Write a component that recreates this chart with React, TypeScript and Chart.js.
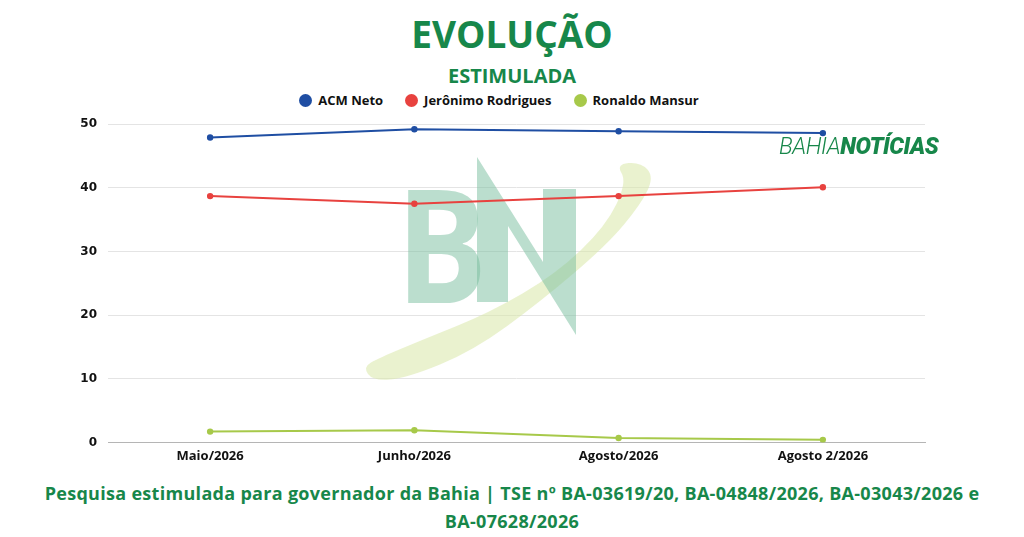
import { useEffect, useRef } from "react";
import { Chart, registerables } from "chart.js";

Chart.register(...registerables);

const months = ["Maio/2026", "Junho/2026", "Agosto/2026", "Agosto 2/2026"];
const seriesNames = ["ACM Neto", "Jerônimo Rodrigues", "Ronaldo Mansur"];
const acmNeto = [47.9, 49.2, 48.9, 48.6];
const jeronimo = [38.7, 37.5, 38.7, 40.1];
const ronaldo = [1.7, 1.9, 0.7, 0.4];
const seriesColors = ["#1f4ea3", "#e8423f", "#a7c94a"];
const yTicks = [0, 10, 20, 30, 40, 50];

const GREEN = "#17874a";
const CANVAS_TOP = 106;

// outline of the logo swoosh, page coords
const swoosh: [number, number][] = [
  [363, 367], [373, 381], [407, 378], [473, 351], [540, 302], [607, 245],
  [641, 204], [654, 177], [641, 162], [616, 164], [627, 182], [606, 226],
  [556, 274], [489, 313], [422, 340], [379, 358],
];

function smoothPath(ctx: CanvasRenderingContext2D, pts: [number, number][], oy: number) {
  const n = pts.length;
  const mid = (a: [number, number], b: [number, number]) => [(a[0] + b[0]) / 2, (a[1] + b[1]) / 2];
  const start = mid(pts[n - 1], pts[0]);
  ctx.moveTo(start[0], start[1] + oy);
  for (let i = 0; i < n; i++) {
    const p = pts[i];
    const m = mid(p, pts[(i + 1) % n]);
    ctx.quadraticCurveTo(p[0], p[1] + oy, m[0], m[1] + oy);
  }
  ctx.closePath();
}

// faint BN logo behind the lines
const watermark = {
  id: "bnWatermark",
  beforeDatasetsDraw(chart: Chart) {
    const ctx = chart.ctx;
    const oy = -CANVAS_TOP;
    ctx.save();
    ctx.fillStyle = "rgba(216,231,168,0.55)";
    ctx.beginPath();
    smoothPath(ctx, swoosh, oy);
    ctx.fill();
    // B
    ctx.fillStyle = "rgba(120,190,158,0.5)";
    ctx.save();
    ctx.translate(396, 303 + oy);
    ctx.scale(0.86, 1);
    ctx.font = "bold 158px 'Open Sans'";
    ctx.textBaseline = "alphabetic";
    ctx.fillText("B", 0, 0);
    ctx.restore();
    // N
    ctx.beginPath();
    ctx.moveTo(477, 302 + oy);
    ctx.lineTo(477, 157 + oy);
    ctx.lineTo(543, 262 + oy);
    ctx.lineTo(543, 189 + oy);
    ctx.lineTo(576, 189 + oy);
    ctx.lineTo(576, 335 + oy);
    ctx.lineTo(508, 226 + oy);
    ctx.lineTo(508, 302 + oy);
    ctx.closePath();
    ctx.fill();
    ctx.restore();
  },
};

export default function App() {
  const canvasRef = useRef<HTMLCanvasElement>(null);
  const chartRef = useRef<Chart | null>(null);

  useEffect(() => {
    const el = canvasRef.current;
    if (!el) return;
    chartRef.current?.destroy();

    const values = [acmNeto, jeronimo, ronaldo];

    chartRef.current = new Chart(el, {
      type: "line",
      data: {
        labels: months,
        datasets: seriesNames.map((name, i) => ({
          label: name,
          data: values[i],
          borderColor: seriesColors[i],
          backgroundColor: seriesColors[i],
          pointBackgroundColor: seriesColors[i],
          pointBorderColor: seriesColors[i],
          pointRadius: 2.2,
          borderWidth: 2,
          tension: 0,
        })),
      },
      options: {
        animation: false,
        responsive: false,
        maintainAspectRatio: false,
        layout: { padding: { left: 68, right: 99, top: 0, bottom: 4 } },
        plugins: {
          legend: { display: false },
          tooltip: { enabled: false },
        },
        scales: {
          x: {
            offset: true,
            grid: { display: false, drawTicks: false },
            border: { display: true, color: "#b5b5b5", width: 1 },
            ticks: {
              color: "#111",
              padding: 6,
              font: { family: "'Open Sans'", weight: "bold", size: 13 },
            },
          },
          y: {
            min: 0,
            max: 50,
            afterFit: (s) => {
              s.width = 40;
            },
            afterBuildTicks: (s) => {
              s.ticks = yTicks.map((v) => ({ value: v }));
            },
            grid: { color: "#e4e4e4", drawTicks: false },
            border: { display: false },
            ticks: {
              color: "#111",
              padding: 11,
              font: { family: "'DejaVu Sans'", weight: "bold", size: 12 },
            },
          },
        },
      },
      plugins: [watermark],
    });

    return () => {
      chartRef.current?.destroy();
      chartRef.current = null;
    };
  }, []);

  return (
    <div
      style={{
        position: "fixed",
        left: 0,
        top: 0,
        width: 1024,
        height: 537,
        background: "#fff",
        fontFamily: "'Open Sans', sans-serif",
        overflow: "hidden",
      }}
    >
      <div
        style={{
          position: "absolute",
          top: 14,
          left: 0,
          width: 1024,
          textAlign: "center",
          fontSize: 37,
          lineHeight: "40px",
          fontWeight: 700,
          color: GREEN,
        }}
      >
        EVOLUÇÃO
      </div>
      <div
        style={{
          position: "absolute",
          top: 64,
          left: 0,
          width: 1024,
          textAlign: "center",
          fontSize: 20,
          lineHeight: "24px",
          fontWeight: 700,
          color: GREEN,
        }}
      >
        ESTIMULADA
      </div>
      <div
        style={{
          position: "absolute",
          top: 91,
          left: -13,
          width: 1024,
          display: "flex",
          justifyContent: "center",
          gap: 22,
          fontSize: 13,
          lineHeight: "18px",
          fontWeight: 700,
          color: "#111",
        }}
      >
        {seriesNames.map((name, i) => (
          <span key={name} style={{ display: "flex", alignItems: "center", gap: 6 }}>
            <span
              style={{
                width: 13,
                height: 13,
                borderRadius: 7,
                background: seriesColors[i],
                display: "inline-block",
              }}
            />
            {name}
          </span>
        ))}
      </div>
      <canvas
        ref={canvasRef}
        width={1024}
        height={368}
        style={{ position: "absolute", left: 0, top: CANVAS_TOP, width: 1024, height: 368 }}
      />
      <div
        style={{
          position: "absolute",
          left: 779,
          top: 131,
          fontFamily: "Roboto, sans-serif",
          fontStyle: "italic",
          fontSize: 24,
          lineHeight: "30px",
          color: GREEN,
          transform: "scaleX(0.96)",
          transformOrigin: "left center",
          whiteSpace: "nowrap",
          letterSpacing: -0.5,
        }}
      >
        <span style={{ fontWeight: 300 }}>BAHIA</span>
        <span style={{ fontWeight: 900 }}>NOTÍCIAS</span>
      </div>
      <div
        style={{
          position: "absolute",
          top: 479,
          left: 0,
          width: 1024,
          textAlign: "center",
          fontSize: 18,
          lineHeight: "28px",
          fontWeight: 700,
          letterSpacing: 0.3,
          color: GREEN,
          whiteSpace: "nowrap",
        }}
      >
        <div>Pesquisa estimulada para governador da Bahia | TSE nº BA-03619/20, BA-04848/2026, BA-03043/2026 e</div>
        <div>BA-07628/2026</div>
      </div>
    </div>
  );
}
